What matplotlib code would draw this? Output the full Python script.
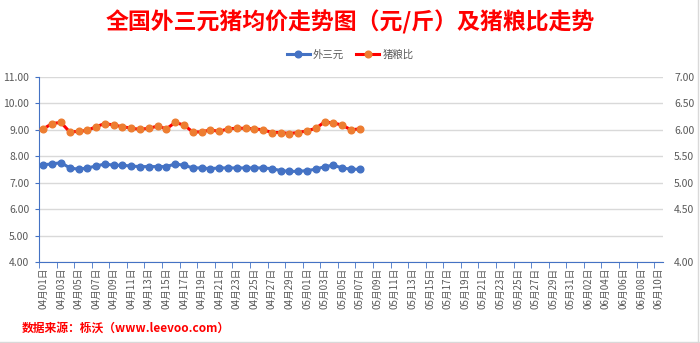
import numpy as np
import pandas as pd
import matplotlib
matplotlib.use("Agg")
import matplotlib.pyplot as plt
from matplotlib.lines import Line2D

plt.rcParams['font.family'] = ['Noto Sans CJK SC', 'DejaVu Sans']

# categories: 04-01 .. 06-10
dates = pd.date_range("2024-04-01", "2024-06-10", freq="D")
labels = [f"{d.month:02d}月{d.day:02d}日" for d in dates]

# 外三元 price (yuan / jin), 04-01 .. 05-07
price = [7.68, 7.71, 7.76, 7.56, 7.51, 7.56, 7.63, 7.71, 7.66, 7.66,
         7.63, 7.61, 7.61, 7.61, 7.61, 7.71, 7.66, 7.56, 7.56, 7.53,
         7.56, 7.56, 7.56, 7.56, 7.56, 7.56, 7.53, 7.46, 7.43, 7.43,
         7.46, 7.51, 7.61, 7.66, 7.56, 7.51, 7.51]

# 猪粮比 (right axis)
ratio = [6.02, 6.12, 6.14, 5.96, 5.97, 5.99, 6.06, 6.12, 6.09, 6.06,
         6.03, 6.01, 6.03, 6.07, 6.02, 6.14, 6.09, 5.96, 5.96, 6.00,
         5.97, 6.02, 6.03, 6.03, 6.02, 6.00, 5.95, 5.95, 5.93, 5.95,
         5.98, 6.03, 6.15, 6.13, 6.09, 6.00, 6.02]

left_ticks = [4, 5, 6, 7, 8, 9, 10, 11]
right_ticks = [3.5, 4.5, 5.0, 5.5, 6.0, 6.5, 7.0]
right_labels = ["4.00", "4.50", "5.00", "5.50", "6.00", "6.50", "7.00"]

blue = "#4472C4"
red = "#FF0000"
orange = "#ED7D31"
gray = "#595959"

fig = plt.figure(figsize=(7, 3.43), dpi=100)
ax = fig.add_axes([39/700, 1-262/343, (663-39)/700, (262-77)/343])
ax2 = ax.twinx()

x = np.arange(len(labels))
ax.plot(x[:len(price)], price, color=blue, lw=2.2, marker='o', ms=4.8,
        mfc=blue, mec=blue, label='外三元', zorder=3)
ax2.plot(x[:len(ratio)], ratio, color=red, lw=2.2, marker='o', ms=4.8,
         mfc=orange, mec=orange, label='猪粮比', zorder=3)

ax.set_xlim(-0.5, len(labels) - 0.5)
ax.set_ylim(4, 11)
ax.set_yticks(left_ticks)
ax.set_yticklabels([f"{v:.2f}" for v in left_ticks], color=gray, fontsize=7.5)
ax.grid(axis='y', color='#D9D9D9', lw=1)
ax.set_axisbelow(True)

ax2.set_ylim(3.5, 7.0)
ax2.set_yticks(right_ticks)
ax2.set_yticklabels(right_labels, color=gray, fontsize=7.5)
ax2.tick_params(axis='y', length=0, pad=8)

ax.set_xticks(x[::2])
ax.set_xticklabels(labels[::2], rotation=90, fontsize=7, color=gray)
ax.set_xticks(np.arange(-0.5, len(labels), 2), minor=True)
ax.tick_params(axis='x', which='major', length=0, pad=4)
ax.tick_params(axis='x', which='minor', length=4, color=blue, direction='out')
ax.tick_params(axis='y', length=3, color=blue, pad=4)

for a in (ax, ax2):
    for s in ('top', 'right', 'left', 'bottom'):
        a.spines[s].set_visible(False)
ax.spines['left'].set_visible(True)
ax.spines['left'].set_color(blue)
ax.spines['bottom'].set_visible(True)
ax.spines['bottom'].set_color(blue)

fig.text(0.5, 1-22/343, "全国外三元猪均价走势图（元/斤）及猪粮比走势",
         ha='center', va='center', color=red, fontsize=16.5, fontweight='bold')

h1, l1 = ax.get_legend_handles_labels()
h2, l2 = ax2.get_legend_handles_labels()
fig.legend(h1 + h2, l1 + l2, loc='center', bbox_to_anchor=(0.5, 1-55/343),
           ncol=2, frameon=False, fontsize=7.5, handlelength=2.2,
           columnspacing=1.2, handletextpad=0.3, labelcolor=gray)

fig.text(22/700, 1-328/343, "数据来源：栎沃（www.leevoo.com）",
         ha='left', va='center', color=red, fontsize=8.5, fontweight='bold')

fig.add_artist(Line2D([0.997, 0.997], [0, 1], color='#D9D9D9', lw=1))
fig.add_artist(Line2D([0, 1], [0.004, 0.004], color='#D9D9D9', lw=1))

fig.savefig("out.png", dpi=100)
